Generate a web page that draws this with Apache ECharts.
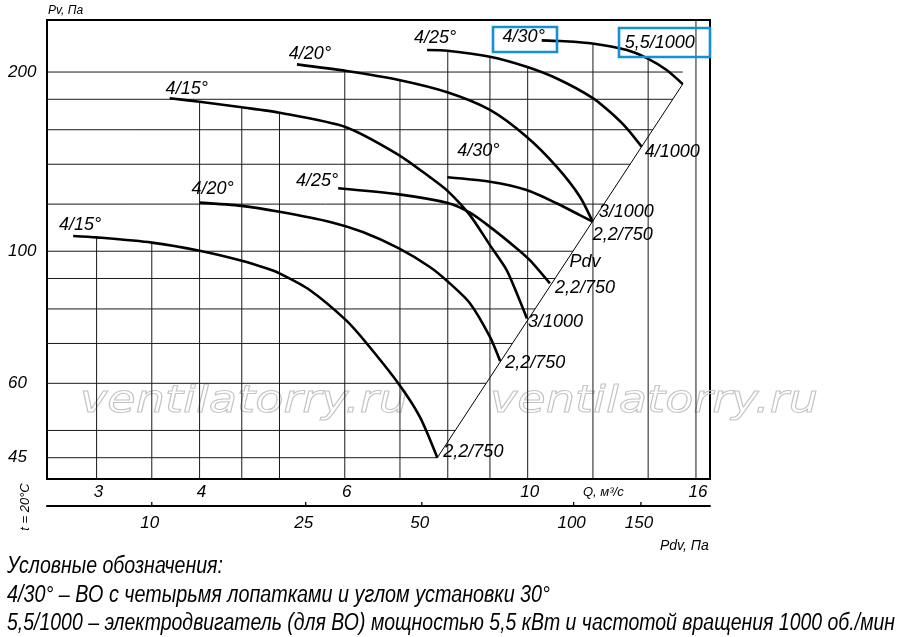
<!DOCTYPE html>
<html>
<head>
<meta charset="utf-8">
<title>Аэродинамические характеристики ВО</title>
<script src="https://cdn.jsdelivr.net/npm/echarts@6/dist/echarts.min.js"></script>
<style>
html, body { margin: 0; padding: 0; background: #fff; }
#chart { width: 900px; height: 637px; }
</style>
</head>
<body>
<div id="chart"></div>
<script>
// оси (логарифмические)
var qMin = 2.612, qMax = 16.64;
var pMin = 41.44, pMax = 244.6;
var qTicks = [3, 4, 6, 10, 16];
var qGrid = [3, 3.5, 4, 4.5, 5, 6, 7, 8, 9, 10, 12, 14, 16];
var pTicks = [45, 60, 100, 200];
var pGrid = [45, 50, 60, 70, 80, 90, 100, 120, 140, 160, 180, 200];
// шкала динамического давления под осью Q
var pdvTicks = [10, 25, 50, 100, 150];
var pdvTickQ = [3.50, 5.38, 7.44, 11.37, 13.72];

// характеристики [Q, м3/с ; Pv, Па]
var c750_15 = [[2.81,106.1],[3.0,105.5],[3.5,103.4],[4.0,100.2],[4.5,96.4],[4.82,93.6],[5.0,91.8],[5.44,86.1],[6.02,76.6],[6.38,70.0],[6.98,59.8],[7.40,52.7],[7.77,45.0]];
var c750_20 = [[4.0,120.7],[4.5,119.2],[5.0,116.5],[5.76,112.0],[6.31,107.7],[6.98,101.1],[7.61,94.1],[8.01,88.8],[8.51,81.8],[9.0,71.8],[9.26,65.4]];
var c750_25 = [[5.89,127.6],[6.98,124.6],[8.0,120.5],[8.51,116.1],[9.0,109.9],[9.70,101.1],[10.06,96.6],[10.64,88.3]];
var c750_30 = [[7.99,133.1],[9.0,130.8],[9.97,126.7],[10.84,120.4],[11.57,115.0],[11.99,112.1]];
var c1000_15 = [[3.68,180.7],[4.0,178.3],[4.5,174.5],[5.0,170.9],[6.02,161.6],[6.98,145.1],[7.61,133.2],[8.0,126.2],[8.51,115.0],[9.0,102.4],[9.43,93.0],[9.70,85.0],[9.98,77.1]];
var c1000_20 = [[5.25,206.0],[6.03,200.8],[6.98,193.9],[7.99,184.9],[9.0,172.7],[9.97,155.7],[10.84,138.7],[11.57,123.5],[11.99,112.1]];
var c1000_25 = [[7.55,217.8],[7.99,217.2],[9.0,212.2],[9.97,204.1],[10.88,194.7],[12.01,180.7],[12.59,171.3],[13.19,160.9],[13.75,149.8]];
var c1000_30 = [[10.40,226.1],[10.94,225.5],[11.98,223.4],[13.19,217.8],[13.97,210.9],[14.74,201.6],[15.42,190.9]];
var pdvLine = [[7.77,45.0],[15.42,190.9]];

var curves = [c750_15, c750_20, c750_25, c750_30, c1000_15, c1000_20, c1000_25, c1000_30];
var bladeNames = ['4/15°','4/20°','4/25°','4/30°','4/15°','4/20°','4/25°','4/30°'];
var motorNames = ['2,2/750','2,2/750','2,2/750','2,2/750','3/1000','3/1000','4/1000','5,5/1000'];

// смещения подписей, px
var startOff = [[7,-11],[13,-14],[-21,-7],[31,-26],[17,-9],[13,-10],[8,-12],[-18,-3]];
var endOff = [[6,-6],[5,2],[5,5],[0,13],[1,4],[6,-10],[3,5],[-58,-41]];

var labelFont = 'italic 18px "Liberation Sans", Arial, sans-serif';
var tickFont = 'italic 17px "Liberation Sans", Arial, sans-serif';

var measureCtx = document.createElement('canvas').getContext('2d');
function widthOf(text, font) {
	measureCtx.font = font;
	return measureCtx.measureText(text).width;
}

function interpLog(c, q) {
	if (q < c[0][0] || q > c[c.length - 1][0]) return null;
	for (var i = 1; i < c.length; i++) {
		if (q <= c[i][0]) {
			var t = (Math.log(q) - Math.log(c[i - 1][0])) / (Math.log(c[i][0]) - Math.log(c[i - 1][0]));
			return Math.exp(Math.log(c[i - 1][1]) + t * (Math.log(c[i][1]) - Math.log(c[i - 1][1])));
		}
	}
	return null;
}
function gridTop(q) {
	var top = null;
	curves.forEach(function (c) {
		var v = interpLog(c, q);
		if (v !== null && (top === null || v > top)) top = v;
	});
	return top === null ? pMax : top;
}
function pdvQ(p) {
	var a = pdvLine[0], b = pdvLine[1];
	var t = (Math.log(p) - Math.log(a[1])) / (Math.log(b[1]) - Math.log(a[1]));
	t = Math.min(t, 1);
	return Math.exp(Math.log(a[0]) + t * (Math.log(b[0]) - Math.log(a[0])));
}

// линии сетки
var gridLines = [];
pGrid.forEach(function (p) { gridLines.push([qMin, p, pdvQ(p), p]); });
qGrid.forEach(function (q) { gridLines.push([q, pMin, q, gridTop(q)]); });

// подписи
var texts = [];
curves.forEach(function (c, i) {
	var last = c[c.length - 1];
	texts.push({q: c[0][0], p: c[0][1], text: bladeNames[i], dx: startOff[i][0], dy: startOff[i][1], align: 'center', font: labelFont});
	texts.push({q: last[0], p: last[1], text: motorNames[i], dx: endOff[i][0], dy: endOff[i][1], align: 'left', font: labelFont});
});
pTicks.forEach(function (p) {
	texts.push({q: qMin, p: p, text: String(p), dx: -39, dy: 0, align: 'left', font: tickFont});
});
qTicks.forEach(function (q) {
	texts.push({q: q, p: pMin, text: String(q), dx: 2, dy: 13, align: 'center', font: tickFont});
});
texts.push({
	q: Math.sqrt(pdvLine[0][0] * pdvLine[1][0]),
	p: Math.sqrt(pdvLine[0][1] * pdvLine[1][1]),
	text: 'Pdv', dx: 25, dy: -9, align: 'center', font: labelFont
});

var series = [];
series.push({
	type: 'custom',
	xAxisIndex: 0, yAxisIndex: 0,
	z: 1,
	silent: true,
	encode: {x: [0, 2], y: [1, 3]},
	data: gridLines,
	renderItem: function (params, api) {
		var a = api.coord([api.value(0), api.value(1)]);
		var b = api.coord([api.value(2), api.value(3)]);
		return {type: 'line', shape: {x1: a[0], y1: a[1], x2: b[0], y2: b[1]}, style: {stroke: '#1a1a1a', lineWidth: 1}};
	}
});
series.push({
	type: 'line',
	data: pdvLine,
	showSymbol: false,
	z: 2,
	lineStyle: {color: '#000', width: 1}
});
curves.forEach(function (c) {
	series.push({
		type: 'line',
		data: c,
		showSymbol: false,
		smooth: 0.25,
		z: 3,
		lineStyle: {color: '#000', width: 2.6, cap: 'butt'}
	});
});
series.push({
	type: 'custom',
	xAxisIndex: 0, yAxisIndex: 0,
	z: 4,
	silent: true,
	encode: {x: 0, y: 1},
	data: texts.map(function (t) { return [t.q, t.p]; }),
	renderItem: function (params, api) {
		var t = texts[params.dataIndex];
		var c = api.coord([t.q, t.p]);
		return {type: 'text', x: c[0] + t.dx, y: c[1] + t.dy,
			style: {text: t.text, font: t.font, fill: '#000', align: t.align, verticalAlign: 'middle'}};
	}
});
series.push({
	type: 'custom',
	xAxisIndex: 1, yAxisIndex: 1,
	silent: true,
	encode: {x: 0, y: 1},
	data: pdvTickQ.map(function (q) { return [q, 0]; }),
	renderItem: function (params, api) {
		var c = api.coord([api.value(0), 0]);
		return {type: 'group', children: [
			{type: 'line', shape: {x1: c[0], y1: c[1] - 4, x2: c[0], y2: c[1]}, style: {stroke: '#000', lineWidth: 1.3}},
			{type: 'text', x: c[0] - 2, y: c[1] + 17,
				style: {text: String(pdvTicks[params.dataIndex]), font: tickFont, fill: '#000', align: 'center', verticalAlign: 'middle'}}
		]};
	}
});

// водяной знак и пояснения
var wmFont = 'italic 38px "DejaVu Sans", sans-serif';
var wmScale = 328 / widthOf('ventilatorry.ru', wmFont);
var legendFont = 'italic 23px "Liberation Sans", Arial, sans-serif';
var legendLines = [
	'Условные обозначения:',
	'4/30° – ВО с четырьмя лопатками и углом установки 30°',
	'5,5/1000 – электродвигатель (для ВО) мощностью 5,5 кВт и частотой вращения 1000 об./мин'
];
var legendWidth = [216, 543, 888];
var legendY = [567, 596, 624];

var graphics = [];
[80, 490].forEach(function (x) {
	graphics.push({type: 'text', x: x, y: 402, scaleX: wmScale, z: 0, silent: true,
		style: {text: 'ventilatorry.ru', font: wmFont, fill: 'rgba(255,255,255,0)', stroke: '#c4c4c4', lineWidth: 1, align: 'left', verticalAlign: 'middle'}});
});
legendLines.forEach(function (s, i) {
	graphics.push({type: 'text', x: 7, y: legendY[i], scaleX: legendWidth[i] / widthOf(s, legendFont),
		style: {text: s, font: legendFont, fill: '#000', align: 'left', verticalAlign: 'middle'}});
});
graphics.push({type: 'text', x: 48, y: 11,
	style: {text: 'Pv, Па', font: 'italic 12px "Liberation Sans", Arial, sans-serif', fill: '#000', align: 'left', verticalAlign: 'middle'}});
graphics.push({type: 'text', x: 583, y: 492,
	style: {text: 'Q, м³/с', font: 'italic 13px "Liberation Sans", Arial, sans-serif', fill: '#000', align: 'left', verticalAlign: 'middle'}});
graphics.push({type: 'text', x: 660, y: 546,
	style: {text: 'Pdv, Па', font: 'italic 14px "Liberation Sans", Arial, sans-serif', fill: '#000', align: 'left', verticalAlign: 'middle'}});
graphics.push({type: 'text', x: 25, y: 507, rotation: Math.PI / 2,
	style: {text: 't = 20°C', font: 'italic 13px "Liberation Sans", Arial, sans-serif', fill: '#000', align: 'center', verticalAlign: 'middle'}});
// выделение подписей
graphics.push({type: 'rect', shape: {x: 493, y: 27, width: 64, height: 25}, z: 10,
	style: {fill: 'none', stroke: '#138fdc', lineWidth: 2.6}});
graphics.push({type: 'rect', shape: {x: 619, y: 28, width: 91, height: 29}, z: 10,
	style: {fill: 'none', stroke: '#138fdc', lineWidth: 2.6}});

var option = {
	animation: false,
	backgroundColor: '#fff',
	grid: [
		{left: 47, top: 20, width: 663, height: 459, show: true, borderColor: '#000', borderWidth: 2, backgroundColor: 'transparent'},
		{left: 47, top: 496, width: 663, height: 10}
	],
	xAxis: [
		{type: 'log', gridIndex: 0, min: qMin, max: qMax, axisLine: {show: false}, axisTick: {show: false}, axisLabel: {show: false}, splitLine: {show: false}},
		{type: 'log', gridIndex: 1, min: qMin, max: qMax, position: 'bottom',
			axisLine: {show: true, onZero: false, lineStyle: {color: '#000', width: 2}}, axisTick: {show: false}, axisLabel: {show: false}, splitLine: {show: false}}
	],
	yAxis: [
		{type: 'log', gridIndex: 0, min: pMin, max: pMax, axisLine: {show: false}, axisTick: {show: false}, axisLabel: {show: false}, splitLine: {show: false}},
		{type: 'value', gridIndex: 1, min: 0, max: 1, show: false}
	],
	graphic: graphics,
	series: series
};

var chart = echarts.init(document.getElementById('chart'));
chart.setOption(option);
</script>
</body>
</html>
